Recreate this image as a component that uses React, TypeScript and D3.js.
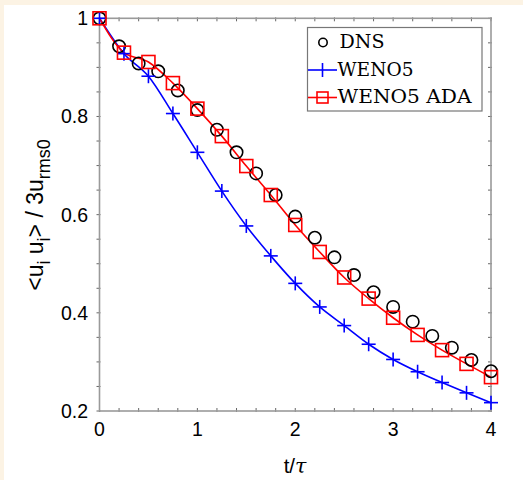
import React from "react";
import * as d3 from "d3";

const dnsT = [0, 0.2, 0.4, 0.6, 0.8, 1.0, 1.2, 1.4, 1.6, 1.8, 2.0, 2.2, 2.4, 2.6, 2.8, 3.0, 3.2, 3.4, 3.6, 3.8, 4.0];
const dnsV = [1.0, 0.943, 0.908, 0.892, 0.853, 0.813, 0.773, 0.727, 0.684, 0.640, 0.596, 0.553, 0.513, 0.477, 0.442, 0.412, 0.382, 0.353, 0.329, 0.304, 0.281];

const simT = [0, 0.25, 0.5, 0.75, 1.0, 1.25, 1.5, 1.75, 2.0, 2.25, 2.5, 2.75, 3.0, 3.25, 3.5, 3.75, 4.0];
const weno5V = [1.0, 0.928, 0.882, 0.806, 0.727, 0.648, 0.577, 0.516, 0.460, 0.412, 0.374, 0.336, 0.305, 0.280, 0.258, 0.237, 0.217];
const adaV = [1.0, 0.930, 0.911, 0.868, 0.816, 0.760, 0.699, 0.640, 0.579, 0.524, 0.472, 0.429, 0.390, 0.355, 0.324, 0.296, 0.269];

const xTicks = [0, 1, 2, 3, 4];
const yTicks = [0.2, 0.4, 0.6, 0.8, 1];
const legendLabels = ["DNS", "WENO5", "WENO5 ADA"];

const W = 523;
const H = 480;
const left = 99.5;
const right = 491;
const top = 18.3;
const bottom = 411;

export default function App() {
  const x = d3.scaleLinear().domain([0, 4]).range([left, right]);
  const y = d3.scaleLinear().domain([0.2, 1]).range([bottom, top]);
  const xMinor = d3.range(0, 4.0001, 0.2);
  const yMinor = d3.range(0.2, 1.0001, 0.05);

  const line = d3
    .line<[number, number]>()
    .x((d) => x(d[0]))
    .y((d) => y(d[1]))
    .curve(d3.curveMonotoneX);

  const wenoPts: [number, number][] = simT.map((t, i) => [t, weno5V[i]]);
  const adaPts: [number, number][] = simT.map((t, i) => [t, adaV[i]]);

  const axisColor = "#9a9a9a";
  const tickColor = "#666";
  const blue = "#0000ff";
  const red = "#ff0000";
  const sq = 13;
  const pl = 7;

  const tickFont = "'Liberation Sans', Arial, Helvetica, sans-serif";
  const serif = "'DejaVu Serif', 'Liberation Serif', serif";

  return (
    <svg
      width={W}
      height={H}
      style={{ position: "absolute", left: 0, top: 0, display: "block" }}
    >
      <rect x={0} y={0} width={W} height={H} fill="#fcf3e4" />
      <rect x={4} y={5} width={W - 4} height={H - 5} fill="#ffffff" />

      {/* minor ticks */}
      {xMinor.map((t, i) => (
        <g key={"xm" + i}>
          <line x1={x(t)} x2={x(t)} y1={bottom + 1} y2={bottom - 3} stroke={tickColor} strokeWidth={1} />
          <line x1={x(t)} x2={x(t)} y1={top - 1} y2={top + 3} stroke={tickColor} strokeWidth={1} />
        </g>
      ))}
      {yMinor.map((v, i) => (
        <g key={"ym" + i}>
          <line x1={left - 3} x2={left + 1} y1={y(v)} y2={y(v)} stroke={tickColor} strokeWidth={1} />
          <line x1={right + 1} x2={right - 3} y1={y(v)} y2={y(v)} stroke={tickColor} strokeWidth={1} />
        </g>
      ))}

      {/* frame */}
      <rect x={left} y={top} width={right - left} height={bottom - top} fill="none" stroke={axisColor} strokeWidth={1.6} />

      {/* tick labels */}
      {xTicks.map((t) => (
        <text key={"xt" + t} x={x(t)} y={435.5} textAnchor="middle" fontFamily={tickFont} fontSize={19.5} fill="#000">
          {t}
        </text>
      ))}
      {yTicks.map((v) => (
        <text key={"yt" + v} x={88} y={y(v) + 7} textAnchor="end" fontFamily={tickFont} fontSize={19.5} fill="#000">
          {v}
        </text>
      ))}

      {/* axis labels */}
      <text x={295} y={473} textAnchor="middle" fontSize={20.5} fill="#000">
        <tspan fontFamily={tickFont}>t/</tspan>
        <tspan fontFamily={serif} fontStyle="italic">τ</tspan>
      </text>
      <text
        transform="translate(43,215) rotate(-90)"
        textAnchor="middle"
        fontFamily={tickFont}
        fontSize={23}
        fill="#000"
      >
        <tspan>{"<u"}</tspan>
        <tspan fontSize={18} dy={7}>i</tspan>
        <tspan dy={-7}>{" u"}</tspan>
        <tspan fontSize={18} dy={7}>i</tspan>
        <tspan dy={-7}>{"> / 3u"}</tspan>
        <tspan fontSize={18} dy={7}>rms0</tspan>
      </text>

      {/* lines */}
      <path d={line(wenoPts) || ""} fill="none" stroke={blue} strokeWidth={1.6} />
      <path d={line(adaPts) || ""} fill="none" stroke={red} strokeWidth={1.6} />

      {/* DNS circles */}
      {dnsT.map((t, i) => (
        <circle key={"d" + i} cx={x(t)} cy={y(dnsV[i])} r={6.2} fill="none" stroke="#000" strokeWidth={1.6} />
      ))}

      {/* WENO5 plus */}
      {wenoPts.map((d, i) => (
        <g key={"w" + i} stroke={blue} strokeWidth={1.6}>
          <line x1={x(d[0]) - pl} x2={x(d[0]) + pl} y1={y(d[1])} y2={y(d[1])} />
          <line x1={x(d[0])} x2={x(d[0])} y1={y(d[1]) - pl} y2={y(d[1]) + pl} />
        </g>
      ))}

      {/* ADA squares */}
      {adaPts.map((d, i) => (
        <rect key={"a" + i} x={x(d[0]) - sq / 2} y={y(d[1]) - sq / 2} width={sq} height={sq} fill="none" stroke={red} strokeWidth={1.6} />
      ))}

      {/* legend */}
      <rect x={307.5} y={27.5} width={174.5} height={83.5} fill="#fff" stroke="#777" strokeWidth={1.2} />
      {legendLabels.map((lab, i) => {
        const ly = 42.5 + i * 27.5;
        return (
          <g key={"l" + i}>
            {i === 0 && <circle cx={323} cy={ly} r={4.2} fill="none" stroke="#000" strokeWidth={1.6} />}
            {i === 1 && (
              <g stroke={blue} strokeWidth={1.6}>
                <line x1={308} x2={337} y1={ly} y2={ly} />
                <line x1={322.5} x2={322.5} y1={ly - 7} y2={ly + 7} />
              </g>
            )}
            {i === 2 && (
              <g stroke={red} strokeWidth={1.6}>
                <line x1={308} x2={337} y1={ly} y2={ly} />
                <rect x={317} y={ly - 5.5} width={11} height={11} fill="none" />
              </g>
            )}
            <text
              x={i === 0 ? 339.5 : 337.5}
              y={ly + 5.5}
              fontFamily={serif}
              fontSize={18}
              fill="#000"
              textLength={i === 0 ? 45 : i === 1 ? 76 : 134}
              lengthAdjust="spacingAndGlyphs"
            >
              {lab}
            </text>
          </g>
        );
      })}
    </svg>
  );
}
